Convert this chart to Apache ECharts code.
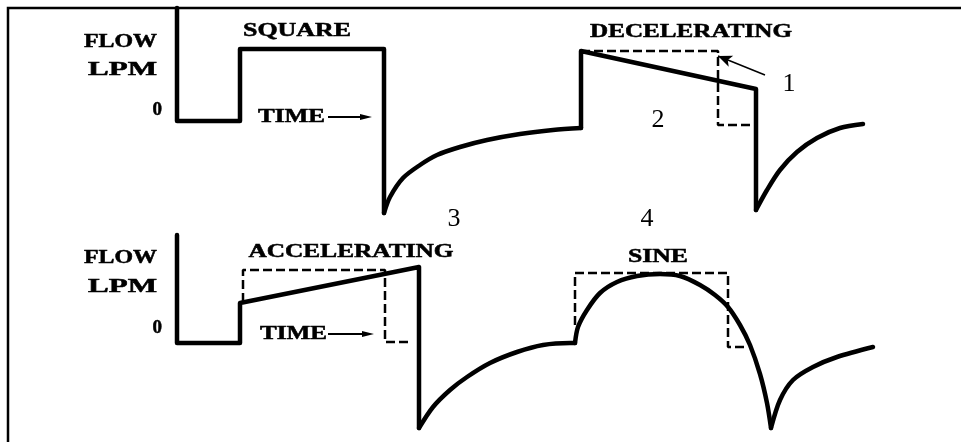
<!DOCTYPE html>
<html>
<head>
<meta charset="utf-8">
<script src="https://cdn.jsdelivr.net/npm/echarts@6/dist/echarts.min.js"></script>
<style>
  html, body { margin: 0; padding: 0; background: #fff; }
  #main { width: 961px; height: 442px; }
</style>
</head>
<body>
<div id="main"></div>
<script>
// time runs left to right (arbitrary units), flow is measured from the 0 line
// --- top panel: square and decelerating waveforms
const squareTrace = [[0, 113], [0, 0], [6.3, 0], [6.3, 72], [20.7, 72], [20.7, -92]];
const squareExhale = [[20.7, -92], [21.3, -76], [22.6, -57], [24.3, -44], [26, -34], [28.3, -26], [31, -19], [34.3, -13], [37.6, -9], [40.4, -7]];
const decelTrace = [[40.4, -7], [40.4, 70], [57.9, 32], [57.9, -89]];
const decelExhale = [[57.9, -89], [59, -69], [60.3, -49], [62, -31], [64, -17], [66.3, -7], [68.6, -3]];
const decelDashed = [[40.4, 70], [54.1, 70], [54.1, -4], [57.3, -4]];
const arrowFrom = [58.8, 46];
const arrowTo = [54.1, 65];

// --- bottom panel: accelerating and sine waveforms
const accelTrace = [[0, 108], [0, 0], [6.3, 0], [6.3, 40], [24.2, 76], [24.2, -85]];
const accelExhale = [[24.2, -85], [25.6, -64], [27.3, -47], [29, -34], [31.3, -20], [34, -9], [36.6, -2], [39.3, 0], [39.8, 0]];
const accelDashed = [[6.6, 41], [6.6, 73], [20.8, 73], [20.8, 1], [23.3, 1]];
const sineTrace = [[39.8, 0], [40.1, 16], [41, 33], [42.3, 50], [44, 61], [46, 67], [48.3, 69], [50.3, 67], [52.3, 58], [53.8, 48], [55.1, 36], [56.3, 18], [57.3, -2], [58.3, -31], [59, -60], [59.4, -85]];
const sineExhale = [[59.4, -85], [60.3, -57], [61.6, -37], [63.6, -24], [66, -14], [69.6, -4]];
const sineDashed = [[39.8, 18], [39.8, 70], [55.1, 70], [55.1, -4], [56.8, -4]];

const INK = '#000';
const boldFont = 'bold 19px "Liberation Serif"';
const measure = document.createElement('canvas').getContext('2d');

// stretched serif caption, anchored at (x, y)
function caption(text, x, y, width, align) {
  measure.font = boldFont;
  const w = measure.measureText(text).width;
  return {
    type: 'text', x: x, y: y, scaleX: width ? width / w : 1,
    style: {
      text: text, font: boldFont, fill: INK, stroke: INK, lineWidth: 0.5,
      align: align || 'center', verticalAlign: 'middle',
      textAlign: align || 'center', textVerticalAlign: 'middle'
    }
  };
}

function number(text, x, y) {
  return {
    type: 'text', x: x, y: y,
    style: {
      text: text, font: '26px "Liberation Serif"', fill: INK,
      align: 'center', verticalAlign: 'middle',
      textAlign: 'center', textVerticalAlign: 'middle'
    }
  };
}

function timeArrow(x1, x2, y) {
  return [
    { type: 'line', shape: { x1: x1, y1: y, x2: x2 - 8, y2: y }, style: { stroke: INK, lineWidth: 2 } },
    { type: 'polygon', shape: { points: [[x2, y], [x2 - 12, y - 3], [x2 - 12, y + 3]] }, style: { fill: INK } }
  ];
}

function trace(data, grid, smooth) {
  return {
    type: 'line', data: data, xAxisIndex: grid, yAxisIndex: grid,
    showSymbol: false, smooth: smooth || false,
    clip: false, silent: true,
    lineStyle: { color: INK, width: 4.5, cap: 'round', join: 'round' }
  };
}

function dashed(data, grid) {
  return {
    type: 'line', data: data, xAxisIndex: grid, yAxisIndex: grid,
    showSymbol: false, clip: false, silent: true,
    lineStyle: { color: INK, width: 2.5, type: [9, 4] }
  };
}

const chart = echarts.init(document.getElementById('main'));

const decelDashSeries = dashed(decelDashed, 0);
decelDashSeries.markLine = {
  silent: true,
  symbol: ['none', 'arrow'],
  symbolSize: [9, 14],
  label: { show: false },
  lineStyle: { type: 'solid', width: 1.5, color: INK },
  data: [[{ coord: arrowFrom }, { coord: arrowTo }]]
};

const option = {
  animation: false,
  backgroundColor: '#fff',
  grid: [
    { left: 177, width: 780, top: 8, height: 223 },
    { left: 177, width: 780, top: 228, height: 210 }
  ],
  xAxis: [
    { type: 'value', gridIndex: 0, min: 0, max: 78, show: false },
    { type: 'value', gridIndex: 1, min: 0, max: 78, show: false }
  ],
  yAxis: [
    { type: 'value', gridIndex: 0, min: -110, max: 113, show: false },
    { type: 'value', gridIndex: 1, min: -95, max: 115, show: false }
  ],
  series: [
    trace(squareTrace, 0),
    trace(squareExhale, 0, 0.3),
    trace(decelTrace, 0),
    trace(decelExhale, 0, 0.3),
    decelDashSeries,
    trace(accelTrace, 1),
    trace(accelExhale, 1, 0.3),
    trace(sineTrace, 1, 0.3),
    trace(sineExhale, 1, 0.3),
    dashed(accelDashed, 1),
    dashed(sineDashed, 1)
  ],
  graphic: [
    { type: 'rect', shape: { x: 8, y: 8, width: 1000, height: 500 }, style: { fill: 'none', stroke: INK, lineWidth: 2.5 } },
    caption('FLOW', 157, 42, 73, 'right'),
    caption('LPM', 157, 70, 69, 'right'),
    caption('0', 162, 110, 0, 'right'),
    caption('SQUARE', 297, 31, 108),
    caption('DECELERATING', 691, 32, 202),
    caption('TIME', 258, 117, 67, 'left'),
    ...timeArrow(328, 372, 117),
    caption('FLOW', 157, 258, 73, 'right'),
    caption('LPM', 157, 287, 69, 'right'),
    caption('0', 162, 328, 0, 'right'),
    caption('ACCELERATING', 351, 252, 205),
    caption('SINE', 658, 257, 60),
    caption('TIME', 260, 334, 67, 'left'),
    ...timeArrow(328, 374, 334),
    number('1', 789, 84),
    number('2', 658, 120),
    number('3', 454, 219),
    number('4', 647, 219)
  ]
};

chart.setOption(option);
</script>
</body>
</html>
